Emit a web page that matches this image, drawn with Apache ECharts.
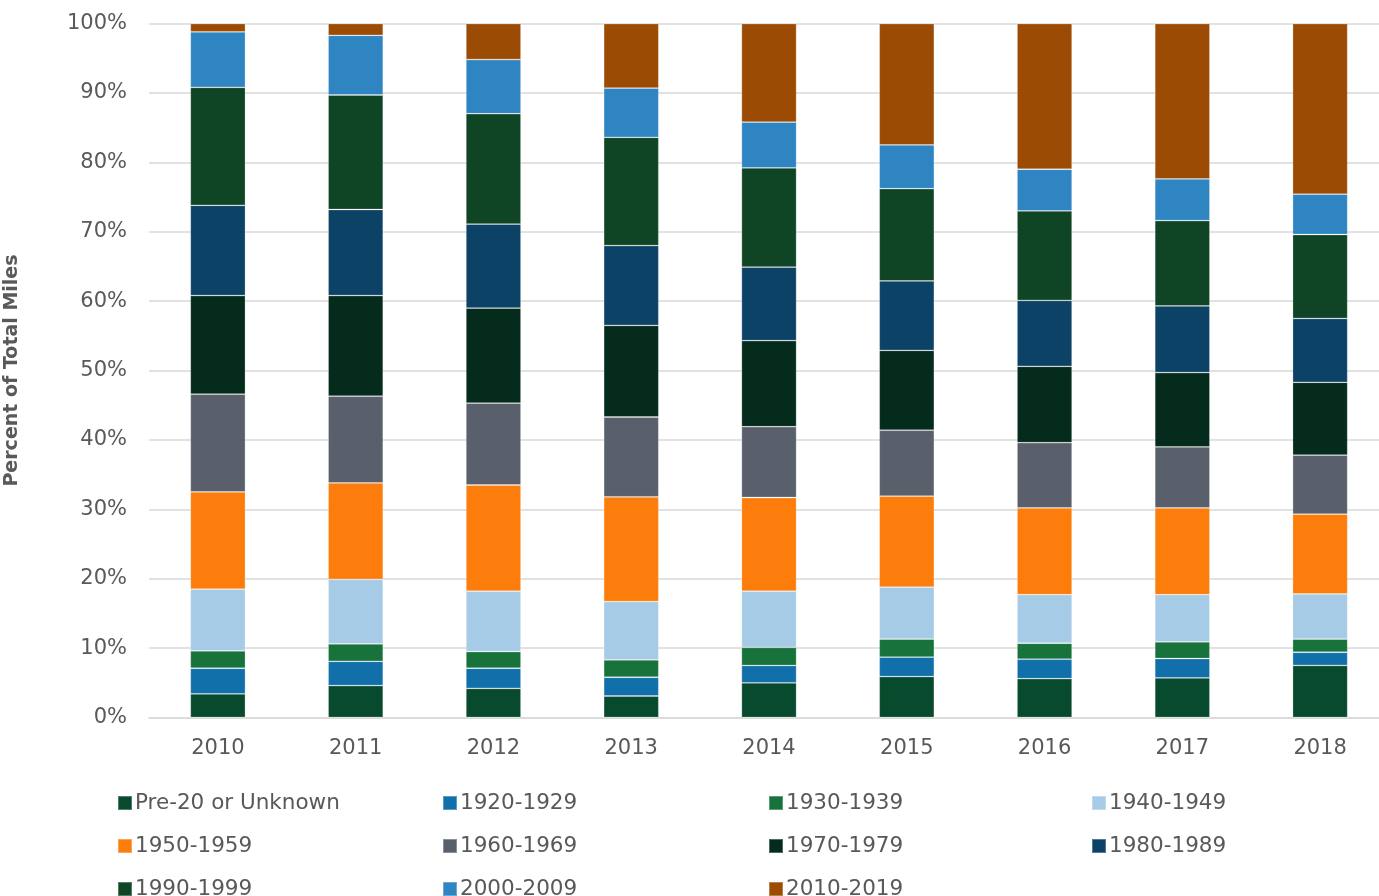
<!DOCTYPE html>
<html>
<head>
<meta charset="utf-8">
<title>Percent of Total Miles by Decade</title>
<script src="https://cdn.jsdelivr.net/npm/echarts@6/dist/echarts.min.js"></script>
<style>
  html, body { margin: 0; padding: 0; background: #ffffff; }
  #chart { width: 1379px; height: 896px; }
</style>
</head>
<body>
<div id="chart"></div>
<script>
// Report years along the x axis
const years = ['2010', '2011', '2012', '2013', '2014', '2015', '2016', '2017', '2018'];

// Share of total miles (%) by decade of installation, bottom of stack first
const pre20    = [3.4, 4.6, 4.2, 3.1, 5.0, 5.9, 5.6, 5.7, 7.5];
const d1920s   = [3.7, 3.5, 2.9, 2.7, 2.5, 2.8, 2.8, 2.8, 1.9];
const d1930s   = [2.5, 2.5, 2.4, 2.5, 2.6, 2.6, 2.3, 2.4, 1.9];
const d1940s   = [8.9, 9.3, 8.7, 8.4, 8.1, 7.5, 7.0, 6.8, 6.5];
const d1950s   = [14.0, 13.9, 15.3, 15.1, 13.5, 13.1, 12.5, 12.5, 11.5];
const d1960s   = [14.1, 12.5, 11.8, 11.5, 10.2, 9.5, 9.4, 8.8, 8.5];
const d1970s   = [14.2, 14.5, 13.7, 13.2, 12.4, 11.5, 11.0, 10.7, 10.5];
const d1980s   = [13.0, 12.4, 12.1, 11.5, 10.6, 10.0, 9.5, 9.6, 9.2];
const d1990s   = [17.0, 16.5, 15.9, 15.6, 14.3, 13.3, 12.9, 12.3, 12.1];
const d2000s   = [8.0, 8.6, 7.8, 7.1, 6.6, 6.3, 6.0, 6.0, 5.8];
const d2010s   = [1.2, 1.7, 5.2, 9.3, 14.2, 17.5, 21.0, 22.4, 24.6];

const seriesNames = [
  'Pre-20 or Unknown', '1920-1929', '1930-1939', '1940-1949', '1950-1959',
  '1960-1969', '1970-1979', '1980-1989', '1990-1999', '2000-2009', '2010-2019'
];
const seriesValues = [pre20, d1920s, d1930s, d1940s, d1950s, d1960s, d1970s, d1980s, d1990s, d2000s, d2010s];
const seriesColors = [
  '#084a2d', '#1170aa', '#17723b', '#a6cbe6', '#fc7d0b',
  '#5a606b', '#042b1c', '#0c4266', '#0f4524', '#2f84c2', '#9b4b04'
];

// y-axis tick values
const yTicks = { min: 0, max: 100, step: 10 };

const textColor = '#595959';
const fontFamily = '"DejaVu Sans", sans-serif';

const series = seriesNames.map((name, i) => ({
  name: name,
  type: 'bar',
  stack: 'total',
  barWidth: '40%',
  data: seriesValues[i],
  itemStyle: {
    color: seriesColors[i],
    borderColor: 'rgba(255,255,255,0.3)',
    borderWidth: 0.8
  },
  emphasis: { disabled: true }
}));

// Legend laid out in four fixed columns, read across each row
const legendColumns = [
  { left: 112, items: ['Pre-20 or Unknown', '1950-1959', '1990-1999'] },
  { left: 437, items: ['1920-1929', '1960-1969', '2000-2009'] },
  { left: 763, items: ['1930-1939', '1970-1979', '2010-2019'] },
  { left: 1086, items: ['1940-1949', '1980-1989'] }
];

const legends = legendColumns.map(col => ({
  type: 'plain',
  orient: 'vertical',
  left: col.left,
  top: 786,
  width: 320,
  height: 200,
  data: col.items,
  icon: 'rect',
  itemWidth: 14,
  itemHeight: 14,
  itemGap: 19,
  selectedMode: false,
  textStyle: {
    color: textColor,
    fontSize: 21.5,
    fontFamily: fontFamily,
    lineHeight: 24,
    padding: [0, 0, 0, -2]
  }
}));

const option = {
  backgroundColor: '#ffffff',
  animation: false,
  color: seriesColors,
  grid: {
    left: 149,
    right: -10,
    top: 23.5,
    bottom: 178.5,
    containLabel: false,
    outerBoundsMode: 'none'
  },
  legend: legends,
  xAxis: {
    type: 'category',
    data: years,
    axisLine: { show: true, lineStyle: { color: '#d9d9d9', width: 1.5 } },
    axisTick: { show: false },
    axisLabel: {
      color: textColor,
      fontSize: 21,
      fontFamily: fontFamily,
      margin: 21
    }
  },
  yAxis: {
    type: 'value',
    min: yTicks.min,
    max: yTicks.max,
    interval: yTicks.step,
    name: 'Percent of Total Miles',
    nameLocation: 'middle',
    nameRotate: 90,
    nameGap: 127,
    nameTextStyle: {
      color: textColor,
      fontSize: 19,
      fontWeight: 'bold',
      fontFamily: fontFamily
    },
    axisLine: { show: false },
    axisTick: { show: false },
    splitLine: { lineStyle: { color: '#d9d9d9', width: 1.5 } },
    axisLabel: {
      color: textColor,
      fontSize: 21,
      fontFamily: fontFamily,
      margin: 22,
      formatter: '{value}%'
    }
  },
  series: series
};

const chart = echarts.init(document.getElementById('chart'), null, { renderer: 'canvas' });
chart.setOption(option);
</script>
</body>
</html>
